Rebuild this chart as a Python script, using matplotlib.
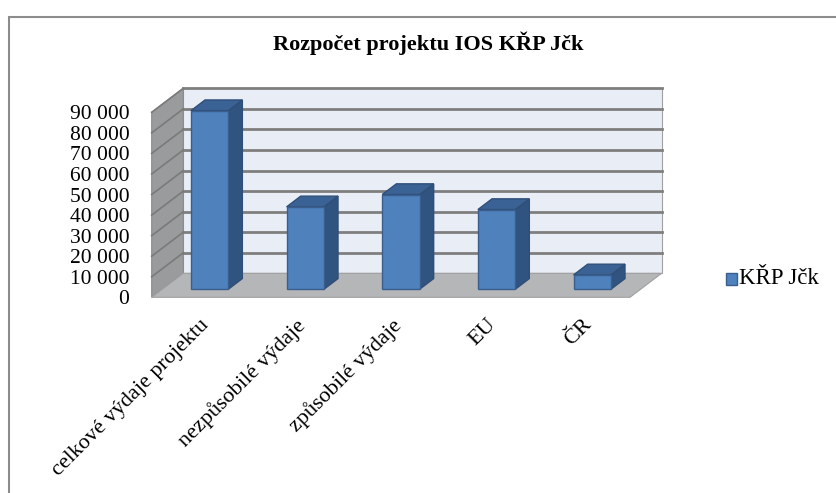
import matplotlib.pyplot as plt
from matplotlib.patches import Polygon, Rectangle

categories = ['celkové výdaje projektu', 'nezpůsobilé výdaje', 'způsobilé výdaje', 'EU', 'ČR']
values = [86900, 40100, 46100, 38800, 7000]
yticks = list(range(0, 90001, 10000))
series_name = 'KŘP Jčk'
title = 'Rozpočet projektu IOS KŘP Jčk'

W, H = 836, 493
plt.rcParams['font.family'] = ['Liberation Serif', 'DejaVu Serif']

fig = plt.figure(figsize=(W / 100, H / 100), dpi=100)

# chart border (runs off the right/bottom edge like the screenshot)
fig.add_artist(Rectangle((9 / W, -0.1), 1.1, (H - 17) / H + 0.1, transform=fig.transFigure,
                         fill=False, edgecolor='#8c8c8c', linewidth=1.5))

# front plane of the 3D box
left, right, top, bottom = 151.7, 630.0, 112.3, 297.3
ax = fig.add_axes([left / W, (H - bottom) / H, (right - left) / W, (bottom - top) / H])
ax.set_xlim(0, len(categories))
ax.set_ylim(0, 90000)
for s in ax.spines.values():
    s.set_visible(False)
ax.patch.set_visible(False)

# depth offset in data units
dx = 31.6 / ((right - left) / len(categories))
dy = 24.0 / ((bottom - top) / 90000)
ymax = 90000

wall_kw = dict(clip_on=False, linewidth=0.8)
# back wall
ax.add_patch(Polygon([(dx, dy), (len(categories) + dx, dy), (len(categories) + dx, ymax + dy), (dx, ymax + dy)],
                     facecolor='#e9edf6', edgecolor='#a0a0a0', **wall_kw))
# left wall
ax.add_patch(Polygon([(0, 0), (dx, dy), (dx, ymax + dy), (0, ymax)],
                     facecolor='#9a9b9d', edgecolor='#8a8a8a', **wall_kw))
# floor
ax.add_patch(Polygon([(0, 0), (len(categories), 0), (len(categories) + dx, dy), (dx, dy)],
                     facecolor='#b5b6b8', edgecolor='#a0a0a0', **wall_kw))

# gridlines
for v in yticks[1:]:
    ax.plot([dx, len(categories) + dx], [v + dy, v + dy], color='#7f7f7f', linewidth=2.0, clip_on=False, zorder=2)
    ax.plot([0, dx], [v, v + dy], color='#7a7a7a', linewidth=1.2, clip_on=False, zorder=2)

# bars
f0, f1 = 1 / 3, 0.78
bw = 0.39
for i, v in enumerate(values):
    x0 = i + 0.3 + f0 * dx
    y0 = f0 * dy
    ddx, ddy = (f1 - f0) * dx, (f1 - f0) * dy
    front = Polygon([(x0, y0), (x0 + bw, y0), (x0 + bw, y0 + v), (x0, y0 + v)],
                    facecolor='#4f81bd', edgecolor='#3a5f8f', linewidth=1.0, clip_on=False, zorder=4)
    side = Polygon([(x0 + bw, y0), (x0 + bw + ddx, y0 + ddy), (x0 + bw + ddx, y0 + ddy + v), (x0 + bw, y0 + v)],
                   facecolor='#30537f', edgecolor='#2f4f78', linewidth=1.0, clip_on=False, zorder=3)
    topf = Polygon([(x0, y0 + v), (x0 + bw, y0 + v), (x0 + bw + ddx, y0 + ddy + v), (x0 + ddx, y0 + ddy + v)],
                   facecolor='#3b6295', edgecolor='#2f4f78', linewidth=1.0, clip_on=False, zorder=3)
    ax.add_patch(side)
    ax.add_patch(topf)
    ax.add_patch(front)

ax.set_yticks(yticks)
ax.set_yticklabels([f'{v:,}'.replace(',', ' ') for v in yticks], fontsize=15.5)
ax.tick_params(axis='y', length=0, pad=16)

ax.set_xticks([i + 0.5 for i in range(len(categories))])
ax.set_xticklabels(categories, rotation=45, ha='right', va='top', rotation_mode='anchor', fontsize=16)
ax.tick_params(axis='x', length=0, pad=13)

fig.text(428 / W, 1 - 43 / H, title, ha='center', va='center', fontsize=16, fontweight='bold')

# legend
fig.add_artist(Rectangle((726 / W, 1 - 285 / H), 11 / W, 12 / H, transform=fig.transFigure,
                         facecolor='#4f81bd', edgecolor='#3a5f8f', linewidth=1.0))
fig.text(739 / W, 1 - 279 / H, series_name, ha='left', va='center', fontsize=16.5)

fig.savefig('out.png', dpi=100)
